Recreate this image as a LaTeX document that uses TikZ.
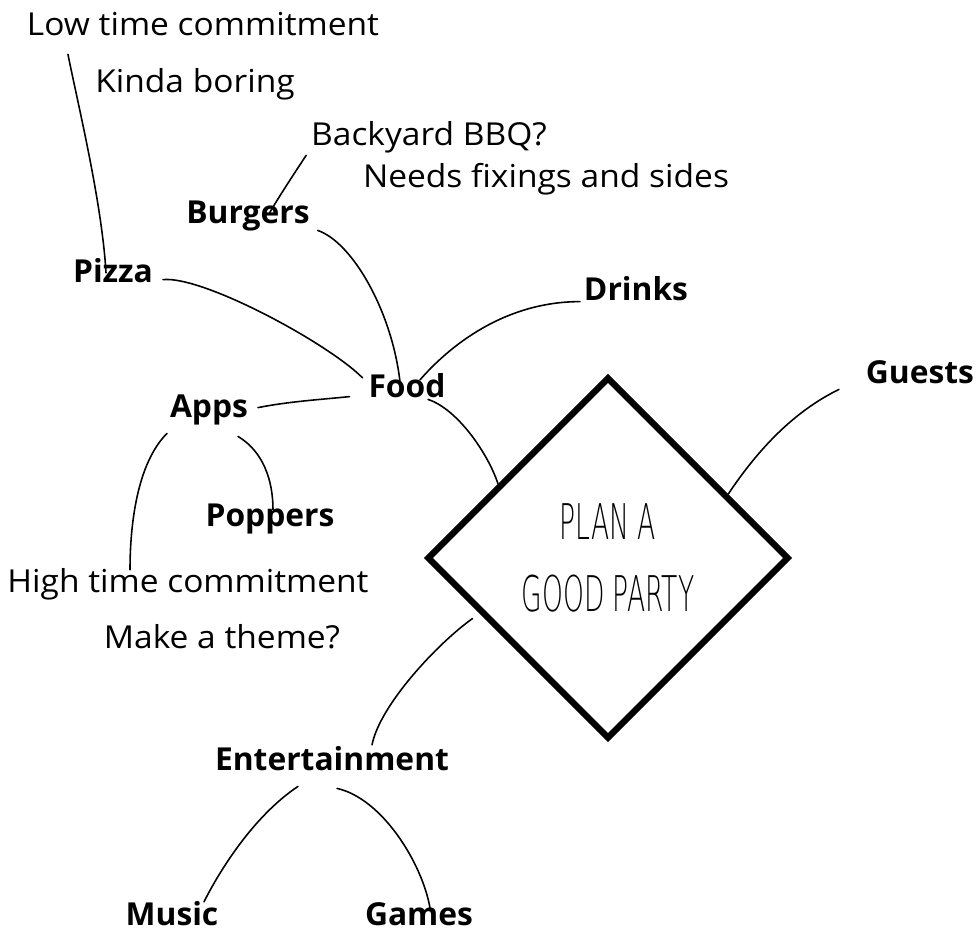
\documentclass[tikz,border=0pt]{standalone}
\usepackage{fontspec}
\setmainfont{Open Sans}
\newfontfamily\notefont{Open Sans}[FakeStretch=1.06]
\newfontfamily\topicfont{Open Sans}[FakeStretch=1.005]
\newfontfamily\planfont{DejaVu Sans ExtraLight}
\usetikzlibrary{shapes.geometric}
\tikzset{
    note/.style={anchor=base, inner sep=0pt, outer sep=0pt, text height=0.75em, text depth=0.25em, font=\notefont\fontsize{18}{21}\selectfont},
    topic/.style={note, font=\topicfont\fontsize{18}{21}\selectfont\bfseries},
}

\begin{document}
\begin{tikzpicture}[x=0.02cm, y=-0.02cm,
link/.style={draw=black, line width=0.9pt, line cap=round},
goal/.style={diamond, draw=black, line width=3.6pt, aspect=1, minimum width=7.24cm, minimum height=7.24cm, inner sep=0pt, align=center, font=\planfont\fontsize{28}{41}\selectfont},
]
\useasboundingbox (0,0) rectangle (976,931);

\node[goal] (plan) at (608,558) {\scalebox{0.54}[1]{PLAN A}\\\scalebox{0.54}[1]{GOOD PARTY}};

\node[note] (low) at (203,35) {Low time commitment};
\node[note] (boring) at (195,92) {Kinda boring};
\node[note] (bbq) at (429,145) {Backyard BBQ?};
\node[note] (fixings) at (546,187) {Needs fixings and sides};
\node[topic] (burgers) at (248,223) {Burgers};
\node[topic] (pizza) at (113,282) {Pizza};
\node[topic] (drinks) at (636,300) {Drinks};
\node[topic] (food) at (407,397) {Food};
\node[topic] (apps) at (209,417) {Apps};
\node[topic] (guests) at (920,383) {Guests};
\node[topic] (poppers) at (270,526) {Poppers};
\node[note] (high) at (188,592) {High time commitment};
\node[note] (theme) at (222,648) {Make a theme?};
\node[topic] (ent) at (332,770) {Entertainment};
\node[topic] (music) at (172,925) {Music};
\node[topic] (games) at (419,925) {Games};

% food branch
\draw[link] ([shift={(41,15)}]low.south west) .. controls +(10,50) and +(-4,-70) .. ([shift={(-7,4)}]pizza.north);
\draw[link] ([shift={(-5,6)}]bbq.south west) .. controls +(-12,18) and +(8,-14) .. ([shift={(21,4)}]burgers.north);
\draw[link] ([shift={(8,3)}]burgers.south east) .. controls +(35,12) and +(-8,-70) .. ([shift={(-7,-2)}]food.north);
\draw[link] ([shift={(10,2)}]pizza.east) .. controls +(40,-4) and +(-35,-35) .. ([shift={(-6,-6)}]food.north west);
\draw[link] ([shift={(-4,6)}]drinks.west) .. controls +(-70,0) and +(35,-40) .. ([shift={(13,-4)}]food.north);
\draw[link] ([shift={(-19,4)}]food.west) .. controls +(-30,3) and +(30,-6) .. ([shift={(10,-5)}]apps.east);
\draw[link] ([shift={(21,-2)}]food.south) .. controls +(30,10) and +(-10,-30) .. (plan.146);
\draw[link] ([shift={(-42,12)}]apps.south) .. controls +(-30,30) and +(0,-45) .. ([shift={(-58,-9)}]high.north);
\draw[link] ([shift={(29,15)}]apps.south) .. controls +(25,15) and +(0,-30) .. ([shift={(3,-3)}]poppers.north);

% guests and entertainment
\draw[link] ([shift={(-27,2)}]guests.south west) .. controls +(-45,22) and +(30,-45) .. (plan.28);
\draw[link] ([shift={(-10,2)}]plan.205) .. controls +(-35,25) and +(8,-40) .. ([shift={(40,-12)}]ent.north);
\draw[link] ([shift={(-34,12)}]ent.south) .. controls +(-45,30) and +(15,-30) .. ([shift={(32,-10)}]music.north);
\draw[link] ([shift={(5,14)}]ent.south) .. controls +(45,10) and +(-8,-45) .. ([shift={(11,-4)}]games.north);

\end{tikzpicture}
\end{document}
